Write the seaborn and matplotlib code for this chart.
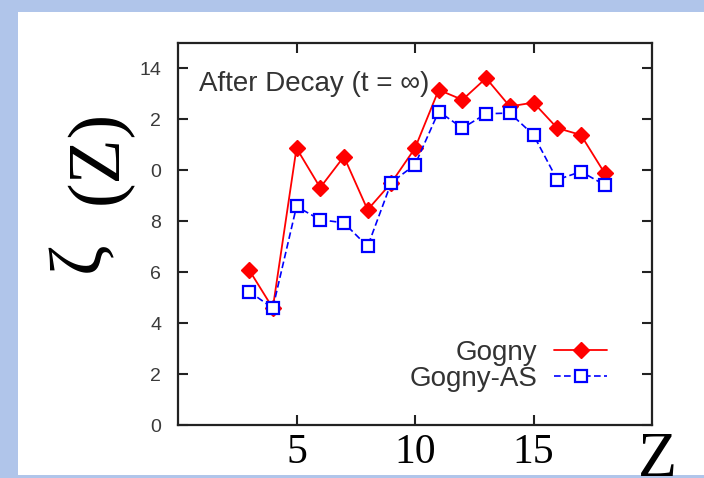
import matplotlib
matplotlib.use("Agg")
import matplotlib.pyplot as plt
import seaborn as sns
import pandas as pd
from matplotlib.patches import Rectangle

# Charge number and yields after decay for the two interactions
z_values = [3, 4, 5, 6, 7, 8, 9, 10, 11, 12, 13, 14, 15, 16, 17, 18]
gogny = [6.09, 4.59, 10.87, 9.32, 10.54, 8.45, 9.51, 10.87,
         13.16, 12.77, 13.62, 12.51, 12.66, 11.66, 11.39, 9.89]
gogny_as = [5.24, 4.59, 8.58, 8.06, 7.94, 7.01, 9.52, 10.22,
            12.31, 11.66, 12.22, 12.25, 11.39, 9.63, 9.95, 9.43]

x_ticks = [5, 10, 15]
y_ticks = [0, 2, 4, 6, 8, 10, 12, 14]
y_tick_labels = ["0", "2", "4", "6", "8", "0", "2", "14"]

series_names = ["Gogny", "Gogny-AS"]
panel_note = "After Decay (t = \u221e)"
y_symbol = "\u03b6"
y_argument = "(Z)"

sns.set_theme(style="ticks")
plt.rcParams["font.family"] = ["Liberation Sans", "DejaVu Sans"]

W, H = 704, 478
fig = plt.figure(figsize=(W / 100, H / 100), dpi=100)
fig.patch.set_facecolor("#b0c5ea")

# white slide panel behind the chart
fig.patches.append(Rectangle((18 / W, 3 / H), 1 - 18 / W, (466 - 3) / H,
                             transform=fig.transFigure, facecolor="white",
                             edgecolor="none", zorder=-5))

ax = fig.add_axes([178 / W, 53 / H, 474 / W, 382 / H])
ax.set_facecolor("white")
ax.set_zorder(2)

df = pd.DataFrame({"Z": z_values, "Gogny": gogny, "Gogny-AS": gogny_as})

sns.lineplot(data=df, x="Z", y="Gogny", ax=ax, color="#ff0000",
             linewidth=1.3, marker="D", markersize=8.5, mfc="#ff0000",
             mec="#ff0000", mew=1.0, label=series_names[0])
sns.lineplot(data=df, x="Z", y="Gogny-AS", ax=ax, color="#0000ff",
             linewidth=1.2, linestyle=(0, (4, 2)), marker="s",
             markersize=9, mfc="white", mec="#0000ff", mew=1.6,
             label=series_names[1])

ax.set_xlim(0, 20)
ax.set_ylim(0, 15)
ax.set_xticks(x_ticks)
ax.set_xticklabels([str(t) for t in x_ticks], fontfamily="Liberation Serif",
                   fontsize=30, color="black")
ax.set_yticks(y_ticks)
ax.set_yticklabels(y_tick_labels, fontsize=14, color="#3a3a3a")

ax.tick_params(axis="both", direction="in", top=True, right=True,
               length=7, width=1.5, color="#222222")
ax.tick_params(axis="x", pad=6)
ax.tick_params(axis="y", pad=12)
for sp in ax.spines.values():
    sp.set_color("#222222")
    sp.set_linewidth(1.6)

ax.set_xlabel("Z", fontfamily="Liberation Serif", fontsize=46,
              color="black", va="baseline", ha="center")
ax.xaxis.set_label_coords((657.5 - 178) / 474, (425 - 476) / 382)

# y-axis label: the argument as the axis label, the raised symbol beside it
ax.set_ylabel(y_argument, fontfamily="Liberation Serif", fontsize=53,
              color="black", va="baseline", ha="center")
ax.yaxis.set_label_coords((117 - 178) / 474, (425 - 157) / 382)
ax.text((99 - 178) / 474, (425 - 257) / 382, y_symbol,
        transform=ax.transAxes, fontfamily="Liberation Serif", fontsize=53,
        color="black", rotation=90, rotation_mode="anchor",
        ha="center", va="baseline")

ax.text((199 - 178) / 474, (425 - 91) / 382, panel_note,
        transform=ax.transAxes, fontsize=20, color="#333333",
        ha="left", va="baseline")

leg = ax.legend(loc="center right",
                bbox_to_anchor=((607 - 178) / 474, (425 - 366) / 382),
                markerfirst=False, frameon=False, fontsize=20,
                handlelength=1.9, handletextpad=0.6, labelspacing=0.0,
                borderpad=0, borderaxespad=0)
for t in leg.get_texts():
    t.set_color("#333333")
    t.set_ha("right")

fig.savefig("out.png", dpi=100, facecolor=fig.get_facecolor())
